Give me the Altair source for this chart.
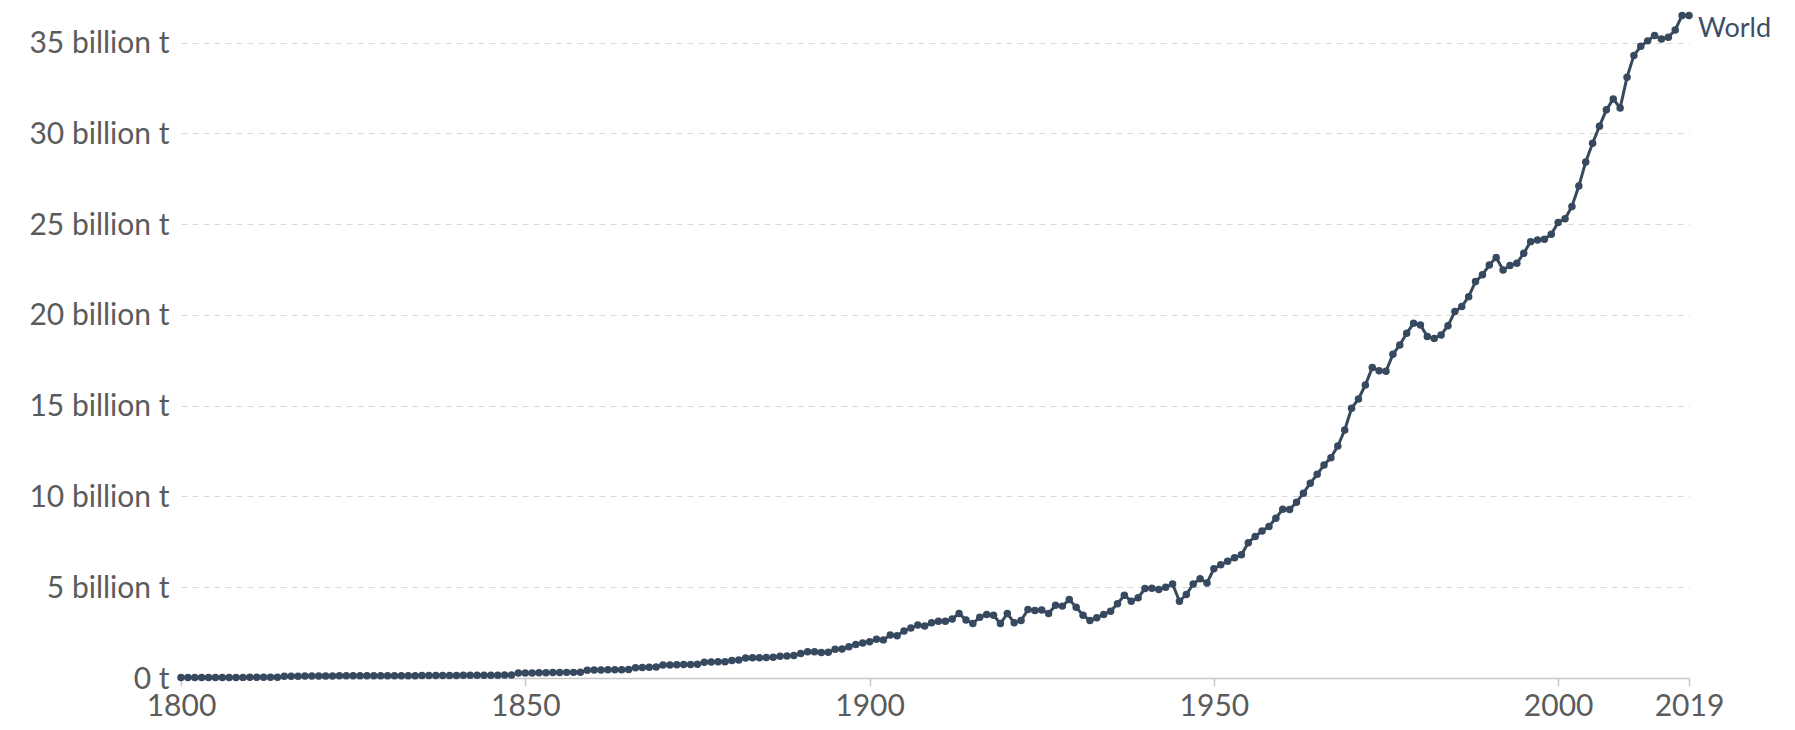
import altair as alt
import pandas as pd

# Annual world CO2 emissions, billion tonnes
vals_1800_1814 = [0.028, 0.029, 0.029, 0.030, 0.031, 0.031, 0.032, 0.033, 0.033, 0.034,
                  0.035, 0.035, 0.036, 0.037, 0.038]
vals_1815_1848 = [0.10, 0.10, 0.10, 0.11, 0.11, 0.11, 0.11, 0.11, 0.12, 0.12,
                  0.12, 0.12, 0.12, 0.12, 0.13, 0.13, 0.13, 0.13, 0.13, 0.13,
                  0.14, 0.14, 0.14, 0.14, 0.14, 0.14, 0.15, 0.15, 0.15, 0.15,
                  0.15, 0.15, 0.16, 0.16]
vals_1849_1889 = [0.27, 0.28, 0.28, 0.29, 0.29, 0.30, 0.30, 0.31, 0.31, 0.32,
                  0.43, 0.44, 0.44, 0.45, 0.46, 0.46, 0.47,
                  0.57, 0.58, 0.59, 0.60,
                  0.71, 0.72, 0.73, 0.74, 0.75, 0.76,
                  0.87, 0.88, 0.89, 0.90,
                  0.97, 0.99,
                  1.10, 1.11, 1.12, 1.13, 1.14,
                  1.20, 1.21, 1.24]
vals_1890_1949 = [1.35, 1.45, 1.45, 1.40, 1.42, 1.58, 1.60, 1.72, 1.85, 1.93,
                  2.00, 2.13, 2.10, 2.37, 2.33, 2.59, 2.75, 2.92, 2.86, 3.04,
                  3.13, 3.12, 3.25, 3.55, 3.20, 3.00, 3.35, 3.50, 3.46, 3.00,
                  3.55, 3.05, 3.17, 3.77, 3.72, 3.74, 3.55, 4.01, 3.96, 4.32,
                  3.90, 3.46, 3.17, 3.32, 3.50, 3.68, 4.09, 4.56, 4.23, 4.42,
                  4.93, 4.95, 4.87, 5.00, 5.18, 4.23, 4.60, 5.18, 5.47, 5.24]
vals_1950_2019 = [6.02, 6.24, 6.43, 6.62, 6.79, 7.45, 7.80, 8.10, 8.35, 8.80,
                  9.30, 9.28, 9.68, 10.18, 10.73, 11.22, 11.74, 12.14, 12.78, 13.66,
                  14.86, 15.37, 16.14, 17.10, 16.93, 16.90, 17.83, 18.35, 18.99, 19.54,
                  19.45, 18.81, 18.71, 18.90, 19.41, 20.19, 20.46, 21.01, 21.84, 22.21,
                  22.75, 23.16, 22.48, 22.72, 22.85, 23.40, 24.04, 24.13, 24.17, 24.45,
                  25.10, 25.30, 25.98, 27.10, 28.43, 29.46, 30.40, 31.30, 31.90, 31.40,
                  33.10, 34.30, 34.80, 35.10, 35.40, 35.20, 35.30, 35.70, 36.50, 36.50]

values = vals_1800_1814 + vals_1815_1848 + vals_1849_1889 + vals_1890_1949 + vals_1950_2019
years = list(range(1800, 1800 + len(values)))

x_ticks = [1800, 1850, 1900, 1950, 2000, 2019]
y_ticks = [0, 5, 10, 15, 20, 25, 30, 35]
series_label = "World"

df = pd.DataFrame({"year": years, "co2": values, "entity": series_label})

LINE = "#37495f"
FONT = "Lato"

x_enc = alt.X("year:Q",
              scale=alt.Scale(domain=[1800, 2019], nice=False, zero=False),
              axis=alt.Axis(values=x_ticks, format="d", title=None, grid=False,
                            domainColor="#c8c8c8", domainWidth=1.5,
                            tickColor="#c8c8c8", tickWidth=1.5, tickSize=8,
                            labelPadding=5, labelFontSize=30, labelColor="#5b5b5b",
                            labelFont=FONT, labelFlush=False))
y_enc = alt.Y("co2:Q",
              scale=alt.Scale(domain=[0, 36.47], nice=False),
              axis=alt.Axis(values=y_ticks, title=None, domain=False, ticks=False,
                            grid=True, gridColor="#d9d9d9", gridDash=[6, 5], gridWidth=1.2,
                            labelPadding=12, labelFontSize=30, labelColor="#5b5b5b",
                            labelFont=FONT, labelBaseline="alphabetic", labelOffset=10,
                            labelExpr="datum.value == 0 ? '0 t' : datum.value + ' billion t'"))

base = alt.Chart(df)

line = base.mark_line(color=LINE, strokeWidth=3).encode(x=x_enc, y=y_enc)
points = base.mark_circle(color=LINE, size=56, opacity=1).encode(x="year:Q", y="co2:Q")
label = base.transform_filter(alt.datum.year == 2019).mark_text(
    align="left", baseline="alphabetic", dx=9, dy=22,
    fontSize=27, font=FONT, color="#3d5068"
).encode(x="year:Q", y="co2:Q", text="entity:N")

chart = alt.layer(line, points, label).properties(
    width=1508, height=662,
    autosize=alt.AutoSizeParams(type="none"),
    padding={"left": 173, "top": 8, "right": 98, "bottom": 44},
).configure_view(stroke=None)

chart.save("out.html", embed_options={"renderer": "svg", "actions": False})
